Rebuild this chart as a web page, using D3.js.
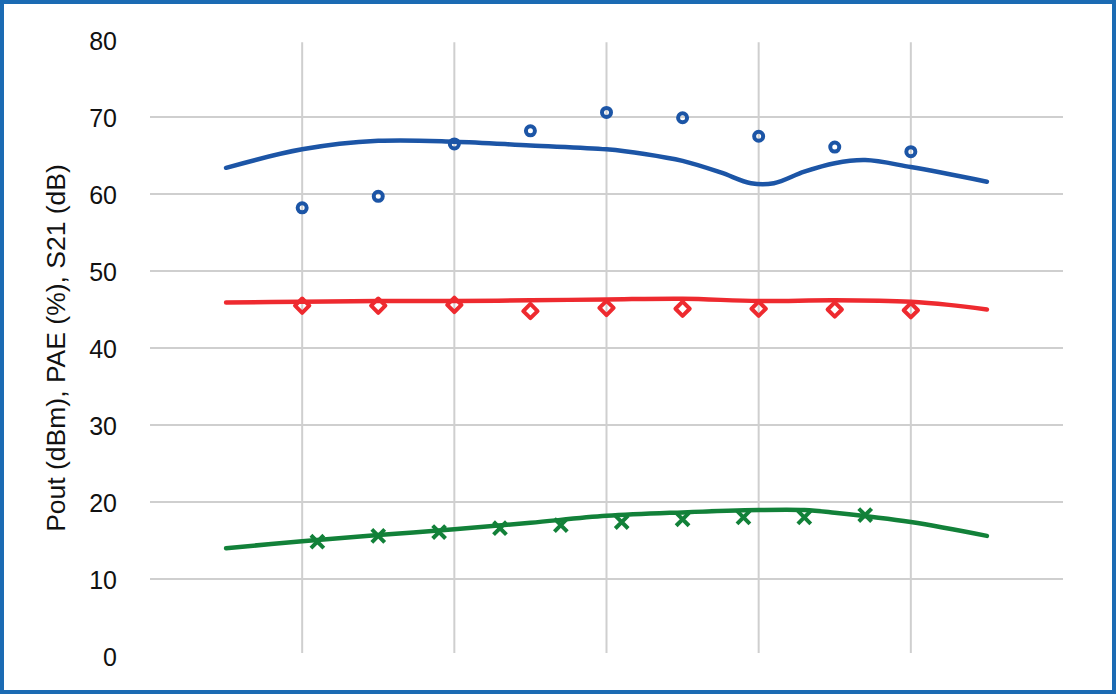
<!DOCTYPE html>
<html>
<head>
    <meta charset="utf-8"/>
    <title>Pout / PAE / S21</title>
    <style>
        body, html {
            margin: 0;
            background-color: #ffffff;
        }

        svg {
            display: block;
            font-family: 'Liberation Sans', Arial, sans-serif;
        }

        .frame {
            fill: none;
            stroke: #1b6bb3;
            stroke-width: 4px;
        }

        .grid line {
            stroke: #cfcfcf;
            stroke-width: 2px;
        }

        .tick-label {
            font-size: 25px;
            fill: #111;
        }

        .y-title {
            font-size: 26.5px;
            fill: #111;
        }

        .curve {
            fill: none;
            stroke-width: 4.5px;
            stroke-linecap: round;
            stroke-linejoin: round;
        }

        .marker {
            fill: none;
            stroke-width: 4px;
        }
    </style>
    <script src="https://cdnjs.cloudflare.com/ajax/libs/d3/7.8.5/d3.min.js" type="text/javascript"></script>
</head>
<body>
    <svg id="viz" width="1117" height="697"></svg>
</body>
<script type="text/javascript">

// y ticks, vertical grid positions
const yTicks = [0, 10, 20, 30, 40, 50, 60, 70, 80];
const yGrid = [10, 20, 30, 40, 50, 60, 70];
const xGrid = [1, 2, 3, 4, 5];

// simulated curves
const sim21X = [0.5, 1, 1.5, 2, 2.5, 3, 3.25, 3.5, 3.75, 3.95, 4.1, 4.3, 4.5, 4.7, 5, 5.5];
const sim21Y = [63.4, 65.8, 66.9, 66.8, 66.3, 65.8, 65.2, 64.3, 62.8, 61.4, 61.4, 62.9, 64.0, 64.4, 63.5, 61.6];

const simPaeX = [0.5, 1, 1.5, 2, 2.5, 3, 3.5, 4, 4.5, 5, 5.25, 5.5];
const simPaeY = [45.9, 46.0, 46.1, 46.1, 46.2, 46.3, 46.4, 46.1, 46.2, 46.0, 45.6, 45.0];

const simPoutX = [0.5, 1, 1.5, 2, 2.5, 3, 3.5, 4, 4.3, 4.5, 5, 5.5];
const simPoutY = [14.0, 14.9, 15.7, 16.45, 17.3, 18.2, 18.65, 18.95, 18.95, 18.6, 17.4, 15.6];

// measured points
const meas21X = [1, 1.5, 2, 2.5, 3, 3.5, 4, 4.5, 5];
const meas21Y = [58.2, 59.7, 66.5, 68.2, 70.6, 69.9, 67.5, 66.1, 65.5];

const measPaeX = [1, 1.5, 2, 2.5, 3, 3.5, 4, 4.5, 5];
const measPaeY = [45.5, 45.5, 45.6, 44.8, 45.2, 45.1, 45.1, 45.0, 44.9];

const measPoutX = [1.1, 1.5, 1.9, 2.3, 2.7, 3.1, 3.5, 3.9, 4.3, 4.7];
const measPoutY = [14.85, 15.6, 16.1, 16.6, 17.0, 17.4, 17.75, 18.0, 18.0, 18.3];

const BLUE = '#1c55a6';
const RED = '#ee2a2f';
const GREEN = '#128139';

const svg = d3.select('svg'),
    width = +svg.attr('width'),
    height = +svg.attr('height');

const x = d3.scaleLinear().domain([0, 6]).range([150, 1063]);
const y = d3.scaleLinear().domain([0, 80]).range([656, 40]);

svg.append('rect')
    .attr('class', 'frame')
    .attr('x', 2).attr('y', 2)
    .attr('width', width - 5).attr('height', height - 7);

const grid = svg.append('g').attr('class', 'grid');

grid.selectAll('line.h')
    .data(yGrid)
    .enter().append('line')
    .attr('class', 'h')
    .attr('x1', x(0)).attr('x2', x(6))
    .attr('y1', d => y(d)).attr('y2', d => y(d));

grid.selectAll('line.v')
    .data(xGrid)
    .enter().append('line')
    .attr('class', 'v')
    .attr('x1', d => x(d)).attr('x2', d => x(d))
    .attr('y1', y(79.7)).attr('y2', y(0.4));

// y tick labels
svg.selectAll('.tick-label')
    .data(yTicks)
    .enter().append('text')
    .attr('class', 'tick-label')
    .attr('x', 117)
    .attr('y', d => y(d))
    .attr('dy', '0.4em')
    .attr('text-anchor', 'end')
    .text(d => d);

svg.append('text')
    .attr('class', 'y-title')
    .attr('transform', `translate(${65},${348}) rotate(-90)`)
    .attr('text-anchor', 'middle')
    .text('Pout (dBm), PAE (%), S21 (dB)');

function zip(xs, ys) {
    return xs.map((v, i) => ({x: v, y: ys[i]}));
}

const line = d3.line()
    .x(d => x(d.x))
    .y(d => y(d.y))
    .curve(d3.curveCatmullRom.alpha(0.5));

const curves = [
    {pts: zip(sim21X, sim21Y), color: BLUE},
    {pts: zip(simPaeX, simPaeY), color: RED},
    {pts: zip(simPoutX, simPoutY), color: GREEN}
];

svg.selectAll('.curve')
    .data(curves)
    .enter().append('path')
    .attr('class', 'curve')
    .attr('stroke', d => d.color)
    .attr('d', d => line(d.pts));

// markers
svg.append('g').selectAll('circle')
    .data(zip(meas21X, meas21Y))
    .enter().append('circle')
    .attr('class', 'marker')
    .attr('stroke', BLUE)
    .attr('cx', d => x(d.x))
    .attr('cy', d => y(d.y))
    .attr('r', 4.5);

const diamond = d3.symbol().type(d3.symbolDiamond2).size(130);

svg.append('g').selectAll('path')
    .data(zip(measPaeX, measPaeY))
    .enter().append('path')
    .attr('class', 'marker')
    .attr('stroke', RED)
    .attr('stroke-linejoin', 'round')
    .attr('d', diamond)
    .attr('transform', d => `translate(${x(d.x)},${y(d.y)})`);

const cross = d3.symbol().type(d3.symbolX).size(110);

svg.append('g').selectAll('path')
    .data(zip(measPoutX, measPoutY))
    .enter().append('path')
    .attr('class', 'marker')
    .attr('stroke', GREEN)
    .attr('stroke-width', 4.5)
    .attr('d', cross)
    .attr('transform', d => `translate(${x(d.x)},${y(d.y)})`);

</script>
</html>
